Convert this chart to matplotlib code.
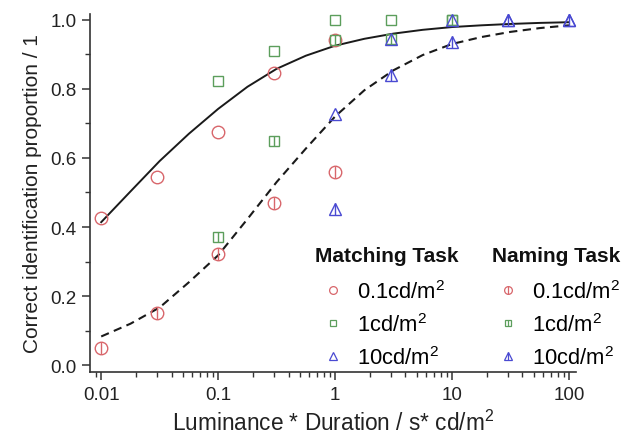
#!/usr/bin/env python3
"""Correct identification vs luminance*duration, matching vs naming task."""
import matplotlib
matplotlib.use("Agg")
import matplotlib.pyplot as plt
from matplotlib.lines import Line2D
from matplotlib.ticker import MultipleLocator, LogLocator, NullFormatter

plt.rcParams["font.family"] = ["Liberation Sans", "DejaVu Sans"]
plt.rcParams["mathtext.fontset"] = "custom"
plt.rcParams["mathtext.rm"] = "Liberation Sans"
plt.rcParams["mathtext.it"] = "Liberation Sans:italic"
plt.rcParams["mathtext.bf"] = "Liberation Sans:bold"

# measured points
x_low = [0.01, 0.03, 0.1, 0.3, 1]
x_mid = [0.1, 0.3, 1, 3, 10]
x_high = [1, 3, 10, 30, 100]

match_01 = [0.425, 0.545, 0.675, 0.846, 0.942]
name_01 = [0.051, 0.151, 0.322, 0.470, 0.560]
match_1 = [0.824, 0.911, 1.0, 1.0, 1.0]
name_1 = [0.372, 0.650, 0.942, 0.945, 1.0]
match_10 = [0.728, 0.945, 1.0, 1.0, 1.0]
name_10 = [0.452, 0.839, 0.935, 1.0, 1.0]

fit_x = [0.01, 0.0178, 0.0316, 0.0562, 0.1, 0.178, 0.316, 0.562, 1,
         1.78, 3.16, 5.62, 10, 17.8, 31.6, 56.2, 100]
fit_match = [0.414, 0.503, 0.591, 0.670, 0.742, 0.806, 0.858, 0.896, 0.925,
             0.945, 0.960, 0.971, 0.979, 0.984, 0.988, 0.991, 0.993]
fit_name = [0.083, 0.120, 0.167, 0.240, 0.318, 0.423, 0.530, 0.627, 0.720,
            0.796, 0.854, 0.898, 0.930, 0.950, 0.965, 0.976, 0.984]

x_ticks = [0.01, 0.1, 1, 10, 100]
x_labels = ["0.01", "0.1", "1", "10", "100"]
conditions = ["0.1cd/m$^2$", "1cd/m$^2$", "10cd/m$^2$"]
task_titles = ["Matching Task", "Naming Task"]

RED = "#d8666b"
GREEN = "#5c9e5c"
BLUE = "#4a4ad2"


def main():
    fig = plt.figure(figsize=(6.22, 4.39), dpi=100)
    ax = fig.add_axes([0.145, 0.150, 0.781, 0.816])

    ax.plot(fit_x, fit_match, color="#1a1a1a", lw=1.4)
    ax.plot(fit_x, fit_name, color="#1a1a1a", lw=1.5, dashes=(4, 2.6))

    ms = 9
    kw = dict(ls="none", mfc="none", mew=1.0)
    series = [
        (x_low, match_01, name_01, "o", RED),
        (x_mid, match_1, name_1, "s", GREEN),
        (x_high, match_10, name_10, "^", BLUE),
    ]
    match_handles = []
    name_handles = []
    for xs, ym, yn, mk, col in series:
        sm = ms * 0.85 if mk == "s" else ms
        ax.plot(xs, ym, marker=mk, mec=col, ms=sm, **kw)
        ax.plot(xs, yn, marker=mk, mec=col, ms=sm, **kw)
        ax.plot(xs, yn, marker="|", mec=col, ls="none", mew=1.0, ms=sm)
        h = Line2D([], [], marker=mk, mec=col, mfc="none", ls="none",
                   mew=0.9, ms=sm * 0.62)
        bar = Line2D([], [], marker="|", mec=col, ls="none", mew=0.9,
                     ms=sm * 0.62)
        match_handles.append(h)
        name_handles.append((h, bar))

    ax.set_xscale("log")
    ax.set_xlim(0.00805, 114.8)
    ax.set_ylim(-0.0203, 1.017)
    ax.set_xticks(x_ticks)
    ax.set_xticklabels(x_labels)
    ax.xaxis.set_minor_locator(LogLocator(base=10, subs=range(2, 10)))
    ax.xaxis.set_minor_formatter(NullFormatter())
    ax.yaxis.set_major_locator(MultipleLocator(0.2))
    ax.yaxis.set_minor_locator(MultipleLocator(0.1))
    ax.yaxis.set_major_formatter(plt.FuncFormatter(lambda v, p: f"{v:.1f}"))

    for s in ("top", "right"):
        ax.spines[s].set_visible(False)
    for s in ("left", "bottom"):
        ax.spines[s].set_linewidth(1.2)
        ax.spines[s].set_color("#333333")
    ax.tick_params(which="major", direction="out", length=6, width=1.1,
                   color="#333333", labelsize=13.5, labelcolor="#222222", pad=4)
    ax.tick_params(which="minor", direction="out", length=3.5, width=1.0,
                   color="#333333")

    ax.set_xlabel("Luminance * Duration / s* cd/m$^2$", fontsize=16.3,
                  color="#222222", labelpad=5)
    ax.set_ylabel("Correct identification proportion / 1", fontsize=15,
                  color="#222222", labelpad=6)

    leg_kw = dict(frameon=False, fontsize=15.8, handlelength=1.6,
                  handletextpad=0.3, labelspacing=0.45, borderaxespad=0,
                  borderpad=0)
    leg1 = ax.legend(match_handles, conditions, loc="upper left",
                     bbox_to_anchor=(0.463, 0.257), **leg_kw)
    ax.add_artist(leg1)
    ax.legend(name_handles, conditions, loc="upper left",
              bbox_to_anchor=(0.823, 0.257), **leg_kw)
    for xpos, title in zip((0.463, 0.827), task_titles):
        ax.text(xpos, 0.325, title, transform=ax.transAxes, ha="left",
                va="center", fontsize=15, fontweight="bold", color="#111111")

    plt.savefig("out.png", dpi=100)


if __name__ == "__main__":
    main()
